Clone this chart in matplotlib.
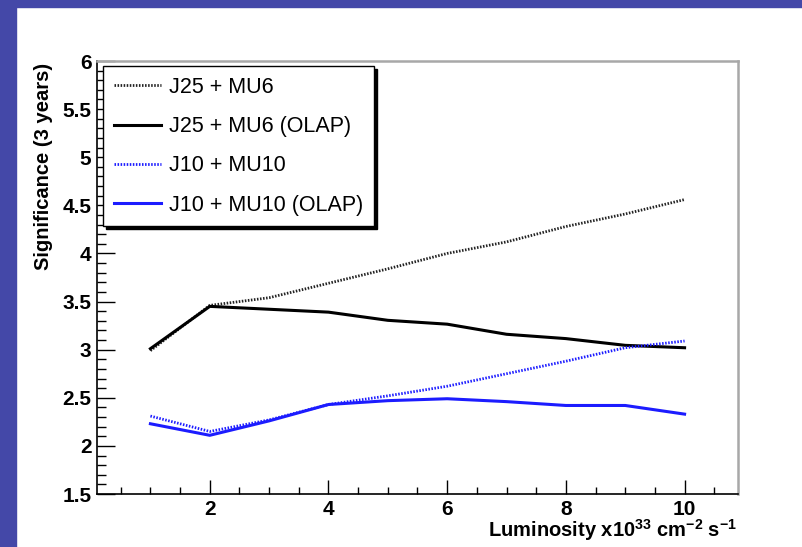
import matplotlib
matplotlib.use("Agg")
import matplotlib.pyplot as plt
from matplotlib.patches import Rectangle
from matplotlib.ticker import MultipleLocator

plt.rcParams['font.family'] = ['Liberation Sans', 'DejaVu Sans']
plt.rcParams['mathtext.fontset'] = 'custom'
plt.rcParams['mathtext.rm'] = 'Liberation Sans:bold'
plt.rcParams['mathtext.it'] = 'Liberation Sans:bold'
plt.rcParams['mathtext.bf'] = 'Liberation Sans:bold'

# luminosity points (x10^33 cm^-2 s^-1)
luminosity = [1, 2, 3, 4, 5, 6, 7, 8, 9, 10]
# significance after 3 years for each trigger menu
j25_mu6 = [2.99, 3.46, 3.54, 3.69, 3.84, 4.00, 4.12, 4.28, 4.41, 4.56]
j25_mu6_olap = [3.01, 3.45, 3.42, 3.39, 3.305, 3.265, 3.16, 3.115, 3.045, 3.02]
j10_mu10 = [2.31, 2.15, 2.27, 2.43, 2.52, 2.62, 2.75, 2.88, 3.02, 3.09]
j10_mu10_olap = [2.23, 2.11, 2.26, 2.43, 2.47, 2.49, 2.46, 2.42, 2.42, 2.33]
labels = ["J25 + MU6", "J25 + MU6 (OLAP)", "J10 + MU10", "J10 + MU10 (OLAP)"]

W, H = 803, 547
fig = plt.figure(figsize=(W / 100, H / 100), dpi=100)
fig.patch.set_facecolor('white')

# slide border
purple = '#4448a8'
fig.patches.append(Rectangle((0, 0), 16 / W, 1, transform=fig.transFigure, color=purple, zorder=0))
fig.patches.append(Rectangle((0, 1 - 7 / H), 1, 7 / H, transform=fig.transFigure, color=purple, zorder=0))

ax = fig.add_axes([97 / W, 53 / H, 641 / W, 433 / H])
blue = '#1c1cff'
dots = (0, (0.55, 0.55))
ax.plot(luminosity, j25_mu6, color='#222222', lw=2.0, ls=dots, label=labels[0])
ax.plot(luminosity, j25_mu6_olap, color='black', lw=2.2, label=labels[1])
ax.plot(luminosity, j10_mu10, color=blue, lw=2.0, ls=dots, label=labels[2])
ax.plot(luminosity, j10_mu10_olap, color=blue, lw=2.2, label=labels[3])

ax.set_xlim(0.1, 10.9)
ax.set_ylim(1.5, 6)
ax.xaxis.set_major_locator(MultipleLocator(2))
ax.xaxis.set_minor_locator(MultipleLocator(0.5))
ax.yaxis.set_major_locator(MultipleLocator(0.5))
ax.yaxis.set_minor_locator(MultipleLocator(0.1))
ax.xaxis.set_major_formatter(plt.FuncFormatter(lambda v, p: '%g' % v if v > 0.5 else ''))
ax.yaxis.set_major_formatter(plt.FuncFormatter(lambda v, p: '%g' % v))

ax.tick_params(axis='both', which='both', direction='in', width=1.0, colors='black', labelsize=15)
ax.tick_params(axis='x', which='major', length=10, pad=4)
ax.tick_params(axis='x', which='minor', length=5)
ax.tick_params(axis='y', which='major', length=13, pad=4)
ax.tick_params(axis='y', which='minor', length=6.5)
for lab in ax.get_xticklabels() + ax.get_yticklabels():
    lab.set_fontweight('bold')

for side in ['left', 'bottom']:
    ax.spines[side].set_color('black')
    ax.spines[side].set_linewidth(1.2)
for side in ['top', 'right']:
    ax.spines[side].set_color('#a8a8a8')
    ax.spines[side].set_linewidth(1.8)

leg = ax.legend(loc='upper left', bbox_to_anchor=(6 / 641, 1 - 5 / 433), borderaxespad=0,
                fancybox=False, edgecolor='black', framealpha=1, fontsize=15.5,
                handlelength=2.2, handletextpad=0.38, borderpad=0.5, labelspacing=0.85,
                shadow={'color': 'black', 'alpha': 1})
leg.get_frame().set_linewidth(1.0)

fig.text(44 / W, 1 - 166 / H, "Significance (3 years)", rotation=90, ha='center', va='center',
         fontsize=14.5, fontweight='bold')
fig.text(737 / W, 10 / H, r"Luminosity x10$^{33}$ cm$^{-2}$ s$^{-1}$", ha='right', va='baseline',
         fontsize=14.5, fontweight='bold')

fig.savefig("out.png", dpi=100)
